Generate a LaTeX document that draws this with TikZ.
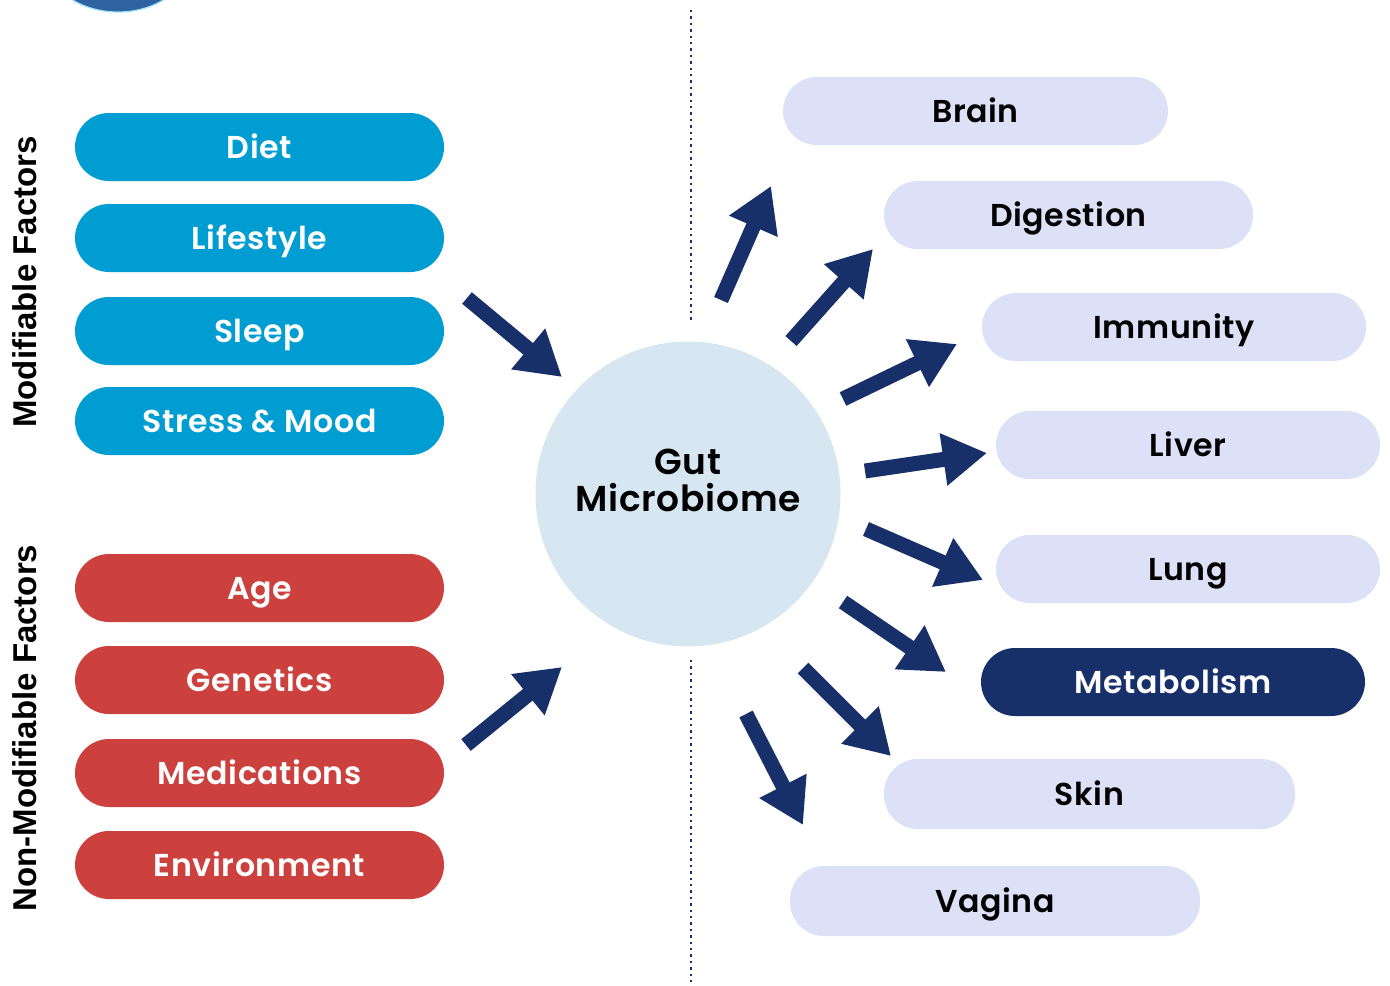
\documentclass[tikz,border=0pt]{standalone}
\usepackage{fontspec}
\setmainfont{Poppins}[BoldFont={Poppins SemiBold},BoldFeatures={LetterSpace=2}]
\newfontfamily\sidefont{Liberation Sans}
\usepackage{tikz}
\usetikzlibrary{arrows.meta}

\definecolor{modblue}{RGB}{0,157,210}
\definecolor{fixedred}{RGB}{204,64,62}
\definecolor{organ}{RGB}{220,225,248}
\definecolor{navy}{RGB}{24,48,106}
\definecolor{gutfill}{RGB}{215,231,241}
\definecolor{globe}{RGB}{46,98,160}

\begin{document}
\begin{tikzpicture}[x=0.5pt,y=-0.5pt,
  pill/.style={rounded corners=17pt,minimum width=184.5pt,minimum height=34pt,inner sep=0pt,
    text height=11.5pt,text depth=0pt,font=\fontsize{15.8}{18}\selectfont\bfseries},
  modpill/.style={pill,fill=modblue,text=white},
  fixedpill/.style={pill,fill=fixedred,text=white},
  organpill/.style={pill,fill=organ,text=black},
  sidelabel/.style={rotate=90,font=\sidefont\bfseries\fontsize{16.5}{18}\selectfont},
  push/.style={navy,line width=7.5pt,-{Triangle[width=25pt,length=22pt]}}]
  \clip (0,0) rectangle (1390,985);
  \fill[white] (0,0) rectangle (1390,985);
  % corner globe
  \fill[globe,draw=cyan!40,line width=0.6pt] (118,-42) ellipse [x radius=72, y radius=54];
  % divider
  \draw[navy,dotted,line width=1.2pt] (691,10) -- (691,320);
  \draw[navy,dotted,line width=1.2pt] (691,660) -- (691,983);
  % side labels
  \node[sidelabel] (modlabel) at (25,282) {Modifiable Factors};
  \node[sidelabel] (fixedlabel) at (25,728) {Non-Modifiable Factors};
  % factors
  \foreach \y/\t/\n in {147/Diet/diet,238/Lifestyle/life,331/Sleep/sleep,421/Stress \& Mood/stress} {
    \node[modpill] (\n) at (259.5,\y) {\t};
  }
  \foreach \y/\t/\n in {588/Age/age,680/Genetics/genes,773/Medications/meds,865/Environment/env} {
    \node[fixedpill] (\n) at (259.5,\y) {\t};
  }
  % microbiome
  \node[circle,fill=gutfill,minimum size=152.5pt,inner sep=0pt] (gut) at (688,494) {};
  \node[align=center,font=\fontsize{18}{18.5}\selectfont\bfseries] (gutlabel) at ([yshift=7pt]gut.center) {Gut\\Microbiome};
  % targets
  \node[organpill,minimum width=192.5pt] (brain) at (975.5,111) {Brain};
  \node[organpill] (digest) at (1068.5,215) {Digestion};
  \node[organpill,minimum width=192pt] (immune) at (1174,327) {Immunity};
  \node[organpill,minimum width=192pt] (liver) at (1188,445) {Liver};
  \node[organpill,minimum width=192pt] (lung) at (1188,569) {Lung};
  \node[pill,fill=navy,text=white,minimum width=192pt] (metab) at (1173,682) {Metabolism};
  \node[organpill,minimum width=205.5pt,minimum height=35pt] (skin) at (1089.5,794) {Skin};
  \node[organpill,minimum width=205pt,minimum height=35pt] (vagina) at (995,901) {Vagina};
  % arrows
  \foreach \n/\tx/\ty/\hx/\hy in {a/467/298/562/377,b/466/745/562/667,
      c/721/300/771/186,d/791/341/873/249,e/843/399/957/344,f/865/471/987/453,
      g/866/529/983/580,h/843/602/946/672,i/803/668/891/756,j/746/714/803/825} {
    \coordinate (tail\n) at (\tx,\ty);
    \coordinate (tip\n) at (\hx,\hy);
    \draw[push] (tail\n) -- (tip\n);
  }
\end{tikzpicture}
\end{document}
